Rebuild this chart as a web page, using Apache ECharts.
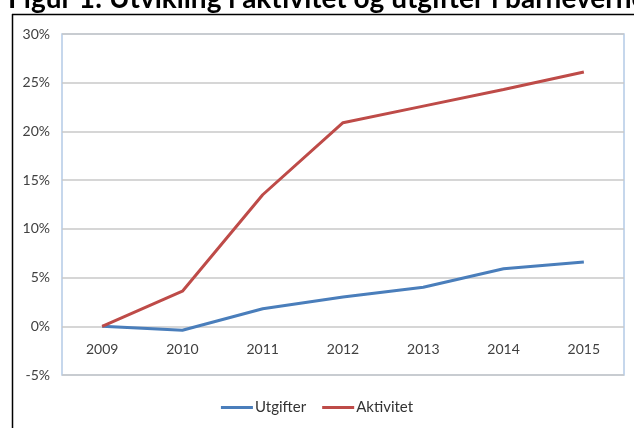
<!DOCTYPE html>
<html>
<head>
<meta charset="utf-8">
<script src="https://cdn.jsdelivr.net/npm/echarts@6/dist/echarts.min.js"></script>
<style>
html,body{margin:0;padding:0;background:#fff;}
#c{width:634px;height:428px;}
</style>
</head>
<body>
<div id="c"></div>
<script>
var titleText = 'Figur 1: Utvikling i aktivitet og utgifter i barnevernet';
var years = ['2009','2010','2011','2012','2013','2014','2015'];
var utgifter = [0, -0.4, 1.8, 3.0, 4.0, 5.9, 6.6];
var aktivitet = [0, 3.6, 13.5, 20.9, 22.6, 24.3, 26.1];
var seriesNames = ['Utgifter','Aktivitet'];

var chart = echarts.init(document.getElementById('c'), null, {renderer:'canvas'});
var font = 'Lato, "Liberation Sans", sans-serif';
chart.setOption({
  animation:false,
  textStyle:{fontFamily:font},
  title:{
    text:titleText, left:3, top:-20,
    textStyle:{fontFamily:font, fontWeight:'bold', fontSize:28, color:'#000'}
  },
  graphic:[
    {type:'line', shape:{x1:12.5,y1:14,x2:12.5,y2:428}, style:{stroke:'#000',lineWidth:1.5}},
    {type:'line', shape:{x1:12,y1:14.5,x2:634,y2:14.5}, style:{stroke:'#000',lineWidth:1.5}}
  ],
  legend:{
    bottom:8, left:'center',
    itemWidth:32, itemHeight:3, itemGap:16, icon:'rect',
    textStyle:{fontFamily:font, fontSize:15, color:'#333', padding:[0,0,0,-3]},
    data:seriesNames
  },
  grid:{left:62, right:10, top:34, bottom:53, show:true, borderColor:'#b4cae6', borderWidth:1.5, backgroundColor:'#fff'},
  xAxis:{
    type:'category', data:years, boundaryGap:true,
    offset:-49,
    axisLine:{show:false, onZero:false},
    axisTick:{show:false},
    axisLabel:{margin:16, fontSize:14, color:'#404040', fontFamily:font}
  },
  yAxis:{
    type:'value', min:-5, max:30, interval:5,
    axisLine:{show:false}, axisTick:{show:false},
    splitLine:{lineStyle:{color:'#c8c8c8', width:1.5}},
    axisLabel:{formatter:'{value}%', margin:12, fontSize:14, color:'#404040', fontFamily:font}
  },
  series:[
    {name:seriesNames[0], type:'line', data:utgifter, showSymbol:false, symbol:'none',
     lineStyle:{color:'#4a7ebb', width:3}, itemStyle:{color:'#4a7ebb'}},
    {name:seriesNames[1], type:'line', data:aktivitet, showSymbol:false, symbol:'none',
     lineStyle:{color:'#be4b48', width:3}, itemStyle:{color:'#be4b48'}}
  ]
});
</script>
</body>
</html>
